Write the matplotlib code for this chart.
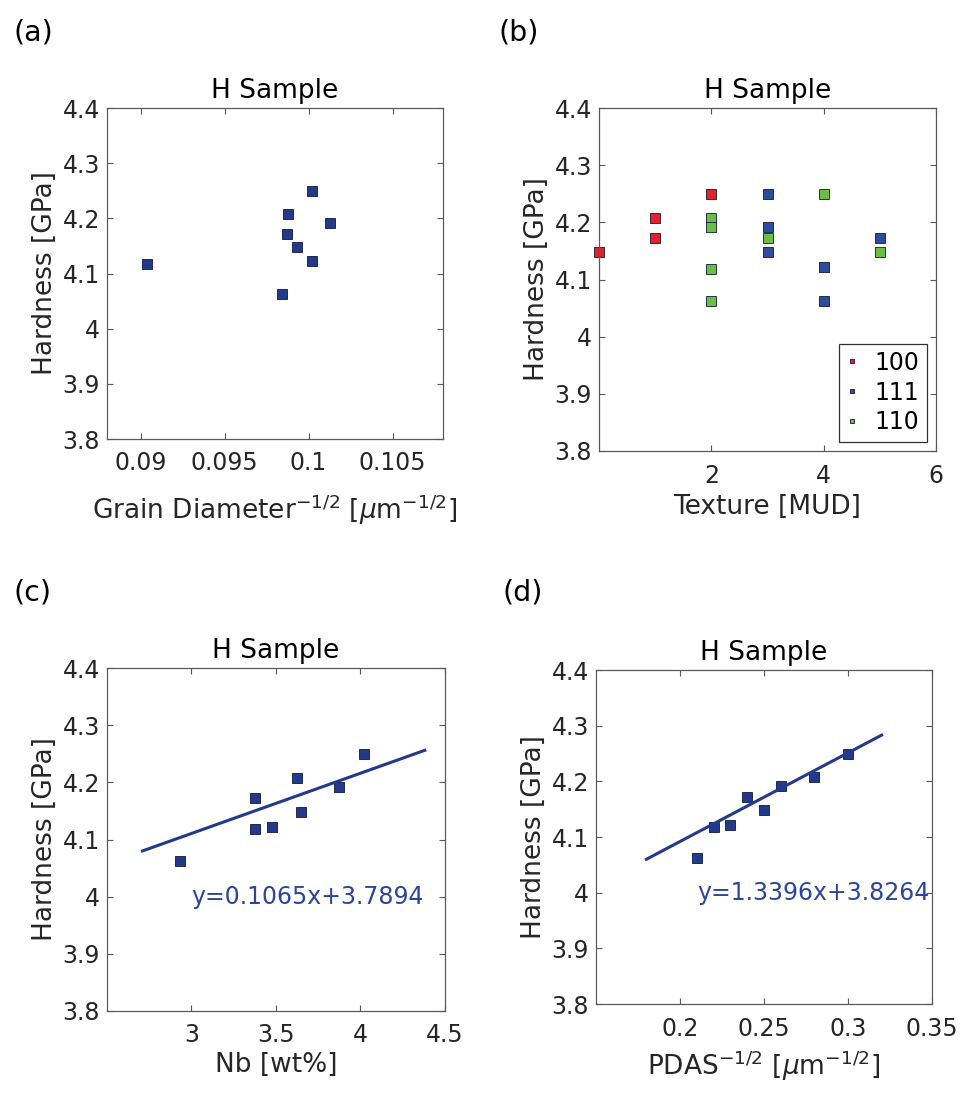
"""
Hardness vs microstructure, H sample: four panels (a)-(d)
"""
import matplotlib
matplotlib.use("Agg")
import matplotlib.pyplot as plt

plt.rcParams['font.family'] = ['DejaVu Sans']
plt.rcParams['mathtext.fontset'] = 'dejavusans'

# ── data ───────────────────────────────────────────────
hardness = [4.063, 4.118, 4.122, 4.172, 4.148, 4.191, 4.208, 4.250]
grain_inv_sqrt = [0.0984, 0.0904, 0.1002, 0.0987, 0.0993, 0.1013, 0.0988, 0.1002]
nb_wt = [2.93, 3.378, 3.474, 3.378, 3.647, 3.871, 3.627, 4.021]
pdas_inv_sqrt = [0.21, 0.22, 0.23, 0.24, 0.25, 0.26, 0.28, 0.30]

# texture (MUD) per grain orientation
tex100_x = [0, 1, 1, 2]
tex100_y = [4.148, 4.208, 4.172, 4.250]
tex111_x = [3, 3, 3, 4, 4, 5]
tex111_y = [4.250, 4.191, 4.148, 4.122, 4.063, 4.172]
tex110_x = [2, 2, 2, 2, 3, 4, 5]
tex110_y = [4.208, 4.191, 4.118, 4.063, 4.172, 4.250, 4.148]

# fit lines as drawn (end points) and the equations printed next to them
nb_line_x = [2.71, 4.38]
nb_line_y = [4.080, 4.256]
nb_eq = "y=0.1065x+3.7894"
pdas_line_x = [0.18, 0.32]
pdas_line_y = [4.060, 4.283]
pdas_eq = "y=1.3396x+3.8264"

y_ticks = [3.8, 3.9, 4.0, 4.1, 4.2, 4.3, 4.4]
y_ticklabels = ["3.8", "3.9", "4", "4.1", "4.2", "4.3", "4.4"]

NAVY = "#22398C"
EDGE = "#10183F"
TXT = "#262626"
SPINE = "#5a5a5a"
colors_b = {"100": "#E5202A", "111": "#2E4C9E", "110": "#6ABD45"}

FS_TICK = 17
FS_LABEL = 19


def style_axes(ax, xlim, xticks, xticklabels, xlabel, xlabelpad):
    ax.set_xlim(*xlim)
    ax.set_ylim(3.8, 4.4)
    ax.set_xticks(xticks)
    ax.set_xticklabels(xticklabels)
    ax.set_yticks(y_ticks)
    ax.set_yticklabels(y_ticklabels)
    ax.tick_params(axis="both", direction="in", length=4, width=0.8,
                   top=True, right=True, labelsize=FS_TICK,
                   colors=SPINE, labelcolor=TXT)
    ax.tick_params(axis="x", pad=9)
    ax.tick_params(axis="y", pad=5)
    for s in ax.spines.values():
        s.set_color(SPINE)
        s.set_linewidth(0.9)
    ax.set_title("H Sample", fontsize=FS_LABEL, color="black", pad=7)
    ax.set_ylabel("Hardness [GPa]", fontsize=FS_LABEL, color=TXT, labelpad=3)
    ax.set_xlabel(xlabel, fontsize=FS_LABEL, color=TXT, labelpad=xlabelpad)


fig = plt.figure(figsize=(9.64, 10.94), dpi=100)
W, H = 964, 1094


def rect(l, r, t, b):
    return [l / W, 1 - b / H, (r - l) / W, (b - t) / H]


ax_a = fig.add_axes(rect(107, 443, 108, 439))
ax_b = fig.add_axes(rect(599, 936, 108, 451))
ax_c = fig.add_axes(rect(107, 445, 668, 1011))
ax_d = fig.add_axes(rect(596, 932, 670, 1004))

mk = dict(marker="s", ms=7.5, mec=EDGE, mew=0.6, ls="none")

# ── (a) grain diameter ─────────────────────────────────
ax_a.plot(grain_inv_sqrt, hardness, mfc=NAVY, **mk)
style_axes(ax_a, (0.088, 0.108), [0.09, 0.095, 0.1, 0.105],
           ["0.09", "0.095", "0.1", "0.105"],
           r"Grain Diameter$^{-1/2}$ [$\mu$m$^{-1/2}$]", 12)

# ── (b) texture ────────────────────────────────────────
ax_b.plot(tex100_x, tex100_y, mfc=colors_b["100"], label="100", clip_on=False, **mk)
ax_b.plot(tex111_x, tex111_y, mfc=colors_b["111"], label="111", clip_on=False, **mk)
ax_b.plot(tex110_x, tex110_y, mfc=colors_b["110"], label="110", clip_on=False, **mk)
style_axes(ax_b, (0, 6), [2, 4, 6], ["2", "4", "6"], "Texture [MUD]", 5)
leg = ax_b.legend(loc="lower right", fontsize=FS_TICK, markerscale=0.3,
                  fancybox=False, edgecolor="#333333", framealpha=1,
                  handlelength=0.5, handletextpad=0.7, labelspacing=0.25,
                  borderpad=0.3, borderaxespad=0.4)
leg.get_frame().set_linewidth(0.9)

# ── (c) Nb content ─────────────────────────────────────
ax_c.plot(nb_wt, hardness, mfc=NAVY, **mk)
ax_c.plot(nb_line_x, nb_line_y, color=NAVY, lw=2.2)
ax_c.text(3.0, 4.0, nb_eq, color="#2B459B", fontsize=FS_TICK, ha="left", va="center")
style_axes(ax_c, (2.5, 4.5), [3, 3.5, 4, 4.5], ["3", "3.5", "4", "4.5"], "Nb [wt%]", 3)

# ── (d) PDAS ───────────────────────────────────────────
ax_d.plot(pdas_inv_sqrt, hardness, mfc=NAVY, **mk)
ax_d.plot(pdas_line_x, pdas_line_y, color=NAVY, lw=2.2)
ax_d.text(0.21, 4.0, pdas_eq, color="#2B459B", fontsize=FS_TICK, ha="left", va="center")
style_axes(ax_d, (0.15, 0.35), [0.2, 0.25, 0.3, 0.35],
           ["0.2", "0.25", "0.3", "0.35"],
           r"PDAS$^{-1/2}$ [$\mu$m$^{-1/2}$]", 6)

# panel letters
for lbl, x, y in [("(a)", 13, 32), ("(b)", 498, 32), ("(c)", 13, 592), ("(d)", 502, 592)]:
    fig.text(x / W, 1 - y / H, lbl, fontsize=20.5, color="black", ha="left", va="center")

fig.savefig("out.png", dpi=100)
